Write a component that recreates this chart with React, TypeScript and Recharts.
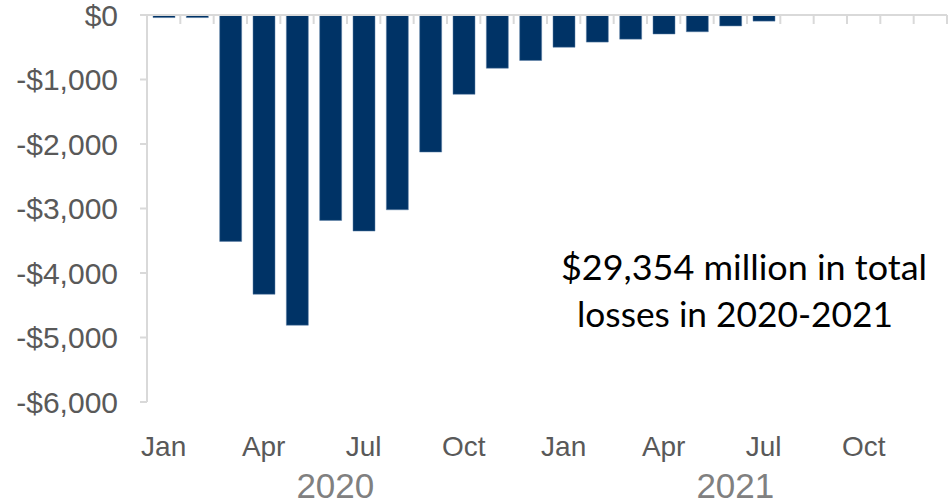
import { BarChart, Bar, XAxis, YAxis, ReferenceLine } from "recharts";

// monthly losses, $ millions (negative = loss)
const MONTHS = [
  "Jan", "Feb", "Mar", "Apr", "May", "Jun", "Jul", "Aug", "Sep", "Oct", "Nov", "Dec",
  "Jan", "Feb", "Mar", "Apr", "May", "Jun", "Jul", "Aug", "Sep", "Oct", "Nov", "Dec",
];
const YEARS = [
  2020, 2020, 2020, 2020, 2020, 2020, 2020, 2020, 2020, 2020, 2020, 2020,
  2021, 2021, 2021, 2021, 2021, 2021, 2021, 2021, 2021, 2021, 2021, 2021,
];
const LOSSES: (number | null)[] = [
  -40, -40, -3510, -4330, -4810, -3185, -3350, -3020, -2125, -1230, -825, -705,
  -500, -420, -375, -295, -260, -170, -95, null, null, null, null, null,
];
const Y_TICKS = [0, -1000, -2000, -3000, -4000, -5000, -6000];
const LABELED_MONTHS = ["Jan", "Apr", "Jul", "Oct"];

const data = MONTHS.map((m, i) => ({
  key: `${m} ${YEARS[i]}`,
  loss: LOSSES[i],
}));

const W = 948;
const H = 504;
const MARGIN = { top: 15, right: 1, left: 0, bottom: 0 };
const Y_AXIS_W = 147;
const BAND = (W - MARGIN.right - Y_AXIS_W) / MONTHS.length;

const AXIS_GRAY = "#d9d9d9";
const LABEL_FONT = "'Liberation Sans', Arial, sans-serif";

const fmtDollar = (v: number) =>
  v === 0 ? "$0" : `-$${Math.abs(v).toLocaleString("en-US")}`;

function MonthTick(props: any) {
  const { x, y, index } = props;
  const month = MONTHS[index];
  const top = MARGIN.top;
  return (
    <g>
      {/* category boundary ticks hanging below the $0 line */}
      <line x1={x - BAND / 2} x2={x - BAND / 2} y1={top} y2={top + 9} stroke={AXIS_GRAY} strokeWidth={2} />
      {index === MONTHS.length - 1 && (
        <line x1={x + BAND / 2} x2={x + BAND / 2} y1={top} y2={top + 9} stroke={AXIS_GRAY} strokeWidth={2} />
      )}
      {LABELED_MONTHS.includes(month) && (
        <text x={x} y={y + 54} textAnchor="middle" fontSize={28} fill="#595959" fontFamily={LABEL_FONT}>
          {month}
        </text>
      )}
      {/* year label sits under the middle of each year */}
      {month === "Jun" && (
        <text x={x + 5} y={y + 96} textAnchor="middle" fontSize={35} fill="#808080" fontFamily={LABEL_FONT}>
          {YEARS[index]}
        </text>
      )}
    </g>
  );
}

export default function App() {
  return (
    <div style={{ position: "absolute", left: 0, top: 0, width: W, height: H, background: "#fff" }}>
      <BarChart width={W} height={H} data={data} margin={MARGIN} barSize={22}>
        <XAxis
          dataKey="key"
          interval={0}
          height={H - 402}
          axisLine={false}
          tickLine={false}
          tickSize={0}
          tickMargin={0}
          tick={<MonthTick />}
        />
        <YAxis
          domain={[-6000, 0]}
          ticks={Y_TICKS}
          interval={0}
          width={Y_AXIS_W}
          tickFormatter={fmtDollar}
          axisLine={{ stroke: AXIS_GRAY, strokeWidth: 2 }}
          tickLine={{ stroke: AXIS_GRAY, strokeWidth: 2 }}
          tickSize={7}
          tickMargin={22}
          tick={{ fontSize: 30, fill: "#595959", fontFamily: LABEL_FONT }}
        />
        <ReferenceLine y={0} stroke={AXIS_GRAY} strokeWidth={2} />
        <Bar
          dataKey="loss"
          fill="#003366"
          stroke="#5f81a8"
          strokeWidth={0.5}
          isAnimationActive={false}
        />
      </BarChart>
      <svg width={W} height={H} style={{ position: "absolute", left: 0, top: 0, pointerEvents: "none" }}>
        <g fontFamily="Lato, 'Open Sans', sans-serif" fontSize={34} fill="#000">
          <text x={561} y={280} textLength={366} lengthAdjust="spacingAndGlyphs">
            $29,354 million in total
          </text>
          <text x={577} y={327} textLength={316} lengthAdjust="spacingAndGlyphs">
            losses in 2020-2021
          </text>
        </g>
      </svg>
    </div>
  );
}
